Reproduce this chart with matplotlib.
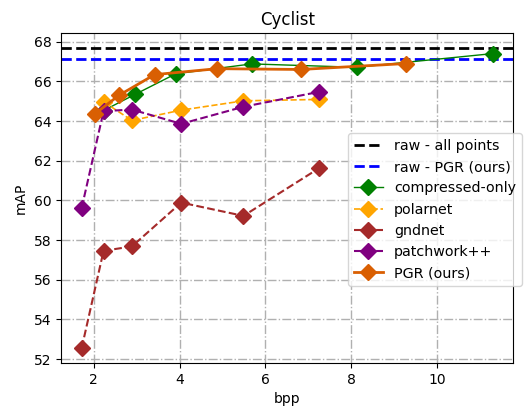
import matplotlib
matplotlib.use('Agg')
import matplotlib.pyplot as plt

# valores (Cyclist)
raw_all = 67.68
raw_pgr = 67.13

comp_bpp = [2.23, 2.96, 3.91, 5.68, 8.13, 11.3]
comp_map = [64.53, 65.34, 66.38, 66.88, 66.71, 67.4]

polar_bpp = [2.23, 2.89, 4.04, 5.49, 7.25]
polar_map = [64.97, 64.03, 64.55, 65.02, 65.09]

gnd_bpp = [1.72, 2.23, 2.89, 4.04, 5.49, 7.25]
gnd_map = [52.56, 57.46, 57.68, 59.89, 59.22, 61.62]

patch_bpp = [1.72, 2.23, 2.89, 4.04, 5.49, 7.25]
patch_map = [59.62, 64.5, 64.58, 63.86, 64.72, 65.47]

pgr_bpp = [2.02, 2.59, 3.42, 4.88, 6.83, 9.28]
pgr_map = [64.35, 65.3, 66.34, 66.64, 66.6, 66.9]

fig = plt.figure(figsize=(5.27, 4.13), dpi=100)
ax = fig.add_axes([0.116, 0.121, 0.858, 0.799])

ax.axhline(raw_all, color='black', linestyle='--', linewidth=2, label='raw - all points')
ax.axhline(raw_pgr, color='blue', linestyle='--', linewidth=2, label='raw - PGR (ours)')
ax.plot(comp_bpp, comp_map, color='green', marker='D', markersize=8.5, linestyle='-', linewidth=1, label='compressed-only')
ax.plot(polar_bpp, polar_map, color='orange', marker='D', markersize=8.5, linestyle='--', linewidth=1.2, label='polarnet')
ax.plot(gnd_bpp, gnd_map, color='brown', marker='D', markersize=8.5, linestyle='--', linewidth=1.5, label='gndnet')
ax.plot(patch_bpp, patch_map, color='purple', marker='D', markersize=8.5, linestyle='--', linewidth=1.5, label='patchwork++')
ax.plot(pgr_bpp, pgr_map, color='#d95f02', marker='D', markersize=8.5, linestyle='-', linewidth=2, label='PGR (ours)')

ax.set_title('Cyclist')
ax.set_xlabel('bpp')
ax.set_ylabel('mAP')
ax.set_yticks(range(52, 69, 2))
ax.grid(True, linestyle='-.', color='#b0b0b0', linewidth=1)
ax.legend(loc='center left', bbox_to_anchor=(0.635, 0.465), borderaxespad=0, fontsize=10.3)

fig.savefig('out.png', dpi=100)
